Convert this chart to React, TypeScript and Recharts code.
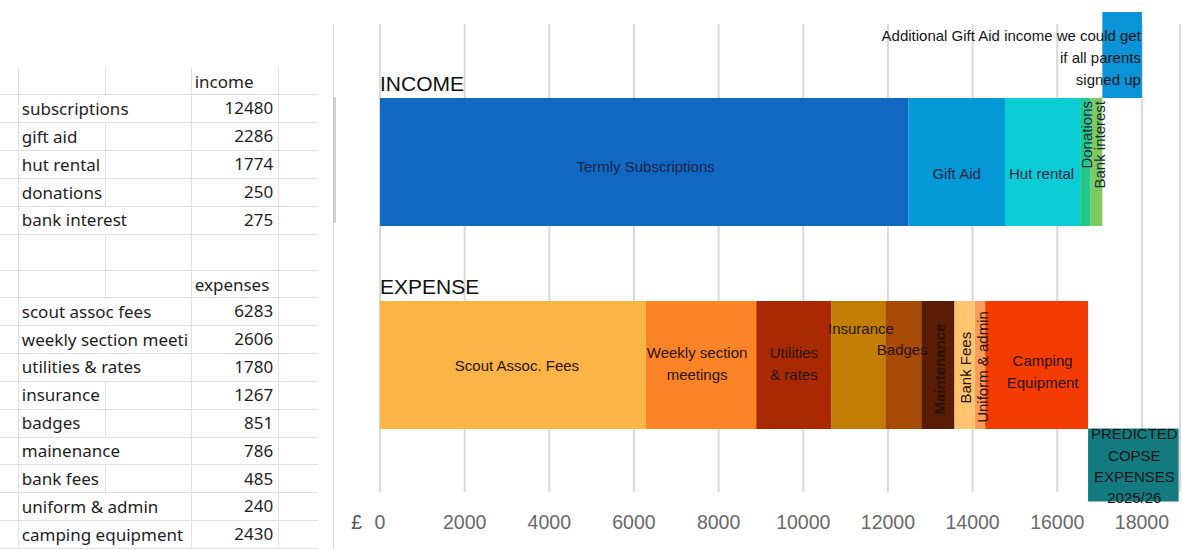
import React from 'react';
import { BarChart, Bar, XAxis, YAxis, CartesianGrid, LabelList, Label } from 'recharts';

// ---------- data ----------
const incomeCategories = ['subscriptions', 'gift aid', 'hut rental', 'donations', 'bank interest'];
const incomeValues = [12480, 2286, 1774, 250, 275];
const incomeLabels = [['Termly Subscriptions'], ['Gift Aid'], ['Hut rental'], ['Donations'], ['Bank interest']];

const expenseCategories = [
  'scout assoc fees',
  'weekly section meeti',
  'utilities & rates',
  'insurance',
  'badges',
  'mainenance',
  'bank fees',
  'uniform & admin',
  'camping equipment',
];
const expenseValues = [6283, 2606, 1780, 1267, 851, 786, 485, 240, 2430];
const expenseLabels = [
  ['Scout Assoc. Fees'],
  ['Weekly section', 'meetings'],
  ['Utilities', '& rates'],
  ['Insurance'],
  ['Badges'],
  ['Maintenance'],
  ['Bank Fees'],
  ['Uniform & admin'],
  ['Camping', 'Equipment'],
];

const rowNames = ['INCOME', 'EXPENSE'];
const tableHeaders = ['income', 'expenses'];
const extraGiftAid = 935;
const extraGiftAidText = ['Additional Gift Aid income we could get', 'if all parents', 'signed up'];
const predictedExpenses = 2140;
const predictedText = ['PREDICTED', 'COPSE', 'EXPENSES', '2025/26'];
const xTicks = [0, 2000, 4000, 6000, 8000, 10000, 12000, 14000, 16000, 18000];
const currencySymbol = '£';

// ---------- styles ----------
const FONT = '"Liberation Sans", Arial, sans-serif';
const TABLE_FONT = '"Noto Sans", sans-serif';
const incomeColors = ['#1068c2', '#0398d6', '#0bcdd5', '#22c98c', '#7ccb5c'];
const expenseColors = ['#fbb446', '#fc8426', '#a92a02', '#c27d05', '#a84b07', '#5b1c05', '#fec470', '#f89c5a', '#f43c02'];
const extraColor = '#0a93d6';
const predictedColor = '#137b80';
const incomeTextColor = '#1b2547';
const expenseTextColor = '#2a1306';

type LabelLayout = { dx: number; dy: number; vertical?: 'top' | 'middle'; bold?: boolean };
const incomeLabelLayout: LabelLayout[] = [
  { dx: 1.5, dy: 5 },
  { dx: 0, dy: 12 },
  { dx: -1, dy: 12 },
  { dx: 1.5, dy: 3, vertical: 'top' },
  { dx: 3.5, dy: 3, vertical: 'top' },
];
const expenseLabelLayout: LabelLayout[] = [
  { dx: 4, dy: 0.5 },
  { dx: -4, dy: -1.5 },
  { dx: 0, dy: -1.5 },
  { dx: 2.5, dy: -36.5 },
  { dx: -1, dy: -15 },
  { dx: 1.5, dy: 4, vertical: 'middle', bold: true },
  { dx: 0.5, dy: 2.7, vertical: 'middle' },
  { dx: 2.5, dy: 2, vertical: 'middle' },
  { dx: 6, dy: 6.7 },
];

// ---------- chart rows ----------
const sum = (a: number[]) => a.reduce((s, v) => s + v, 0);
const incomeRow: Record<string, any> = {
  name: rowNames[0],
  gaBase: sum(incomeValues),
  gaExtra: extraGiftAid,
  predBase: 0,
  predExtra: 0,
};
const expenseRow: Record<string, any> = {
  name: rowNames[1],
  gaBase: 0,
  gaExtra: 0,
  predBase: sum(expenseValues),
  predExtra: predictedExpenses,
};
incomeValues.forEach((v, i) => {
  incomeRow['inc' + i] = v;
  expenseRow['inc' + i] = 0;
});
expenseValues.forEach((v, i) => {
  incomeRow['exp' + i] = 0;
  expenseRow['exp' + i] = v;
});
const chartData = [incomeRow, expenseRow];

// ---------- label renderers ----------
const getBox = (p: any) => {
  const vb = p && p.viewBox && typeof p.viewBox.x === 'number' ? p.viewBox : p;
  return { x: Number(vb.x), y: Number(vb.y), width: Number(vb.width), height: Number(vb.height) };
};
const visible = (b: { width: number; height: number }) => Math.abs(b.width) > 0.5 && Math.abs(b.height) > 0.5;

const FS = 15;
const CAP = 0.358 * FS;

const segmentLabel = (lines: string[], layout: LabelLayout, color: string) => (p: any) => {
  const box = getBox(p);
  if (!visible(box)) return null;
  const { x, y, width, height } = box;
  const cx = x + width / 2 + layout.dx;
  const st: React.CSSProperties = { fontFamily: FONT, fontSize: FS, fill: color, fontWeight: layout.bold ? 700 : 400 };
  if (layout.vertical) {
    const cy = layout.vertical === 'top' ? y + layout.dy : y + height / 2 + layout.dy;
    return (
      <text
        x={cx}
        y={cy + CAP}
        transform={`rotate(-90 ${cx} ${cy})`}
        textAnchor={layout.vertical === 'top' ? 'end' : 'middle'}
        style={st}
      >
        {lines[0]}
      </text>
    );
  }
  const cy = y + height / 2 + layout.dy;
  const lh = 21.5;
  return (
    <text textAnchor="middle" style={st}>
      {lines.map((l, i) => (
        <tspan key={i} x={cx} y={cy + (i - (lines.length - 1) / 2) * lh + CAP}>
          {l}
        </tspan>
      ))}
    </text>
  );
};

const titleLabel = (title: string) => (p: any) => {
  const box = getBox(p);
  if (!visible(box)) return null;
  return (
    <text x={box.x} y={box.y - 7} textAnchor="start" style={{ fontFamily: FONT, fontSize: 21, fill: '#111' }}>
      {title}
    </text>
  );
};

const gaLabel = (p: any) => {
  const box = getBox(p);
  if (!visible(box)) return null;
  const { x, y, width, height } = box;
  const cy = y + height / 2 + 2.7;
  return (
    <text textAnchor="end" style={{ fontFamily: FONT, fontSize: FS, fill: '#161616' }}>
      {extraGiftAidText.map((l, i) => (
        <tspan key={i} x={x + width - 1} y={cy + (i - 1) * 21.7 + CAP}>
          {l}
        </tspan>
      ))}
    </text>
  );
};

const predLabel = (p: any) => {
  const box = getBox(p);
  if (!visible(box)) return null;
  const { x, y, width, height } = box;
  const cx = x + width / 2 + 1;
  const cy = y + height / 2 + 1;
  return (
    <text textAnchor="middle" style={{ fontFamily: FONT, fontSize: FS, fill: '#141414' }}>
      {predictedText.map((l, i) => (
        <tspan key={i} x={cx} y={cy + (i - 1.5) * 21.3 + CAP}>
          {l}
        </tspan>
      ))}
    </text>
  );
};

// ---------- spreadsheet table ----------
type TRow = { kind: 'header' | 'data' | 'blank'; name?: string; value?: number; header?: string; top: number; h: number };
const buildRows = (): TRow[] => {
  const rows: TRow[] = [];
  let ty = 68;
  const push = (r: Omit<TRow, 'top' | 'h'>, h: number) => {
    rows.push({ ...r, top: ty, h });
    ty += h;
  };
  push({ kind: 'header', header: tableHeaders[0] }, 27.3);
  incomeCategories.forEach((c, i) => push({ kind: 'data', name: c, value: incomeValues[i] }, 27.9));
  push({ kind: 'blank' }, 36);
  push({ kind: 'header', header: tableHeaders[1] }, 27.3);
  expenseCategories.forEach((c, i) => push({ kind: 'data', name: c, value: expenseValues[i] }, 27.9));
  return rows;
};

const colX = [0, 18.3, 105, 190.7, 277.7, 318];
const GRID = '#e0e0e0';

const Sheet = () => {
  const rows = buildRows();
  const textStyle: React.CSSProperties = { fontFamily: TABLE_FONT, fontSize: 17, color: '#1e1e1e', whiteSpace: 'nowrap' };
  return (
    <div style={{ position: 'absolute', left: 0, top: 0, width: 330, height: 549 }}>
      {colX.slice(1, 5).map((cx, i) => (
        <div key={'v' + i} style={{ position: 'absolute', left: cx, top: 68, width: 1, height: 481, background: GRID }} />
      ))}
      {rows.map((r, i) => (
        <div
          key={'r' + i}
          style={{ position: 'absolute', left: 0, top: r.top, width: colX[5], height: r.h, borderBottom: `1px solid ${GRID}`, boxSizing: 'border-box' }}
        />
      ))}
      {rows.map((r, i) => {
        if (r.kind === 'header') {
          return (
            <div key={'h' + i} style={{ ...textStyle, position: 'absolute', left: colX[3] + 4, top: r.top, height: r.h, lineHeight: `${r.h}px` }}>
              {r.header}
            </div>
          );
        }
        if (r.kind === 'data') {
          return (
            <React.Fragment key={'d' + i}>
              <div
                style={{
                  ...textStyle,
                  position: 'absolute',
                  left: colX[1] + 1,
                  top: r.top + 0.5,
                  height: r.h - 1.5,
                  lineHeight: `${r.h - 1}px`,
                  background: '#fff',
                  paddingLeft: 2.5,
                  paddingRight: 2,
                  boxSizing: 'border-box',
                }}
              >
                {r.name}
              </div>
              <div
                style={{
                  ...textStyle,
                  position: 'absolute',
                  left: colX[3],
                  width: colX[4] - colX[3] - 4.5,
                  top: r.top,
                  height: r.h,
                  lineHeight: `${r.h - 1}px`,
                  textAlign: 'right',
                }}
              >
                {r.value}
              </div>
            </React.Fragment>
          );
        }
        return null;
      })}
      <div style={{ position: 'absolute', left: 332.5, top: 24, width: 1.5, height: 525, background: '#d8d8d8' }} />
      <div style={{ position: 'absolute', left: 333, top: 97, width: 2.5, height: 126, background: '#d0d0d0' }} />
    </div>
  );
};

// ---------- app ----------
export default function App() {
  return (
    <div style={{ position: 'absolute', left: 0, top: 0, width: 1183, height: 549, background: '#fff', overflow: 'hidden' }}>
      <Sheet />
      <div style={{ position: 'absolute', left: 0, top: 0 }}>
        <BarChart
          width={1183}
          height={549}
          data={chartData}
          layout="vertical"
          margin={{ top: 6, right: 3, left: 380, bottom: 12 }}
          barGap={80}
        >
          <CartesianGrid vertical horizontal={false} stroke="#d9d9d9" strokeWidth={2} y={24} height={468} />
          <XAxis
            type="number"
            domain={[0, 18900]}
            ticks={xTicks}
            interval={0}
            axisLine={false}
            tickLine={false}
            height={30}
            tick={{ fontSize: 19.5, fill: '#686868', fontFamily: FONT }}
          >
            <Label value={currencySymbol} position="left" offset={18} style={{ fontSize: 19.5, fill: '#555', fontFamily: FONT }} />
          </XAxis>
          <YAxis yAxisId="main" type="category" dataKey="name" hide width={0} padding={{ top: 54, bottom: 41 }} />
          <YAxis yAxisId="extra" type="category" dataKey="name" hide width={0} />

          {incomeValues.map((_, i) => (
            <Bar key={'inc' + i} yAxisId="main" dataKey={'inc' + i} stackId="main" fill={incomeColors[i]} barSize={128} isAnimationActive={false}>
              <LabelList content={segmentLabel(incomeLabels[i], incomeLabelLayout[i], incomeTextColor)} />
              {i === 0 ? <LabelList content={titleLabel(rowNames[0])} /> : null}
            </Bar>
          ))}
          {expenseValues.map((_, i) => (
            <Bar key={'exp' + i} yAxisId="main" dataKey={'exp' + i} stackId="main" fill={expenseColors[i]} barSize={128} isAnimationActive={false}>
              <LabelList content={segmentLabel(expenseLabels[i], expenseLabelLayout[i], expenseTextColor)} />
              {i === 0 ? <LabelList content={titleLabel(rowNames[1])} /> : null}
            </Bar>
          ))}

          <Bar yAxisId="extra" dataKey="gaBase" stackId="ga" fill="transparent" barSize={86} isAnimationActive={false} />
          <Bar yAxisId="extra" dataKey="gaExtra" stackId="ga" fill={extraColor} barSize={86} isAnimationActive={false}>
            <LabelList content={gaLabel} />
          </Bar>
          <Bar yAxisId="extra" dataKey="predBase" stackId="pred" fill="transparent" barSize={73} isAnimationActive={false} />
          <Bar yAxisId="extra" dataKey="predExtra" stackId="pred" fill={predictedColor} barSize={73} isAnimationActive={false}>
            <LabelList content={predLabel} />
          </Bar>
        </BarChart>
      </div>
    </div>
  );
}
